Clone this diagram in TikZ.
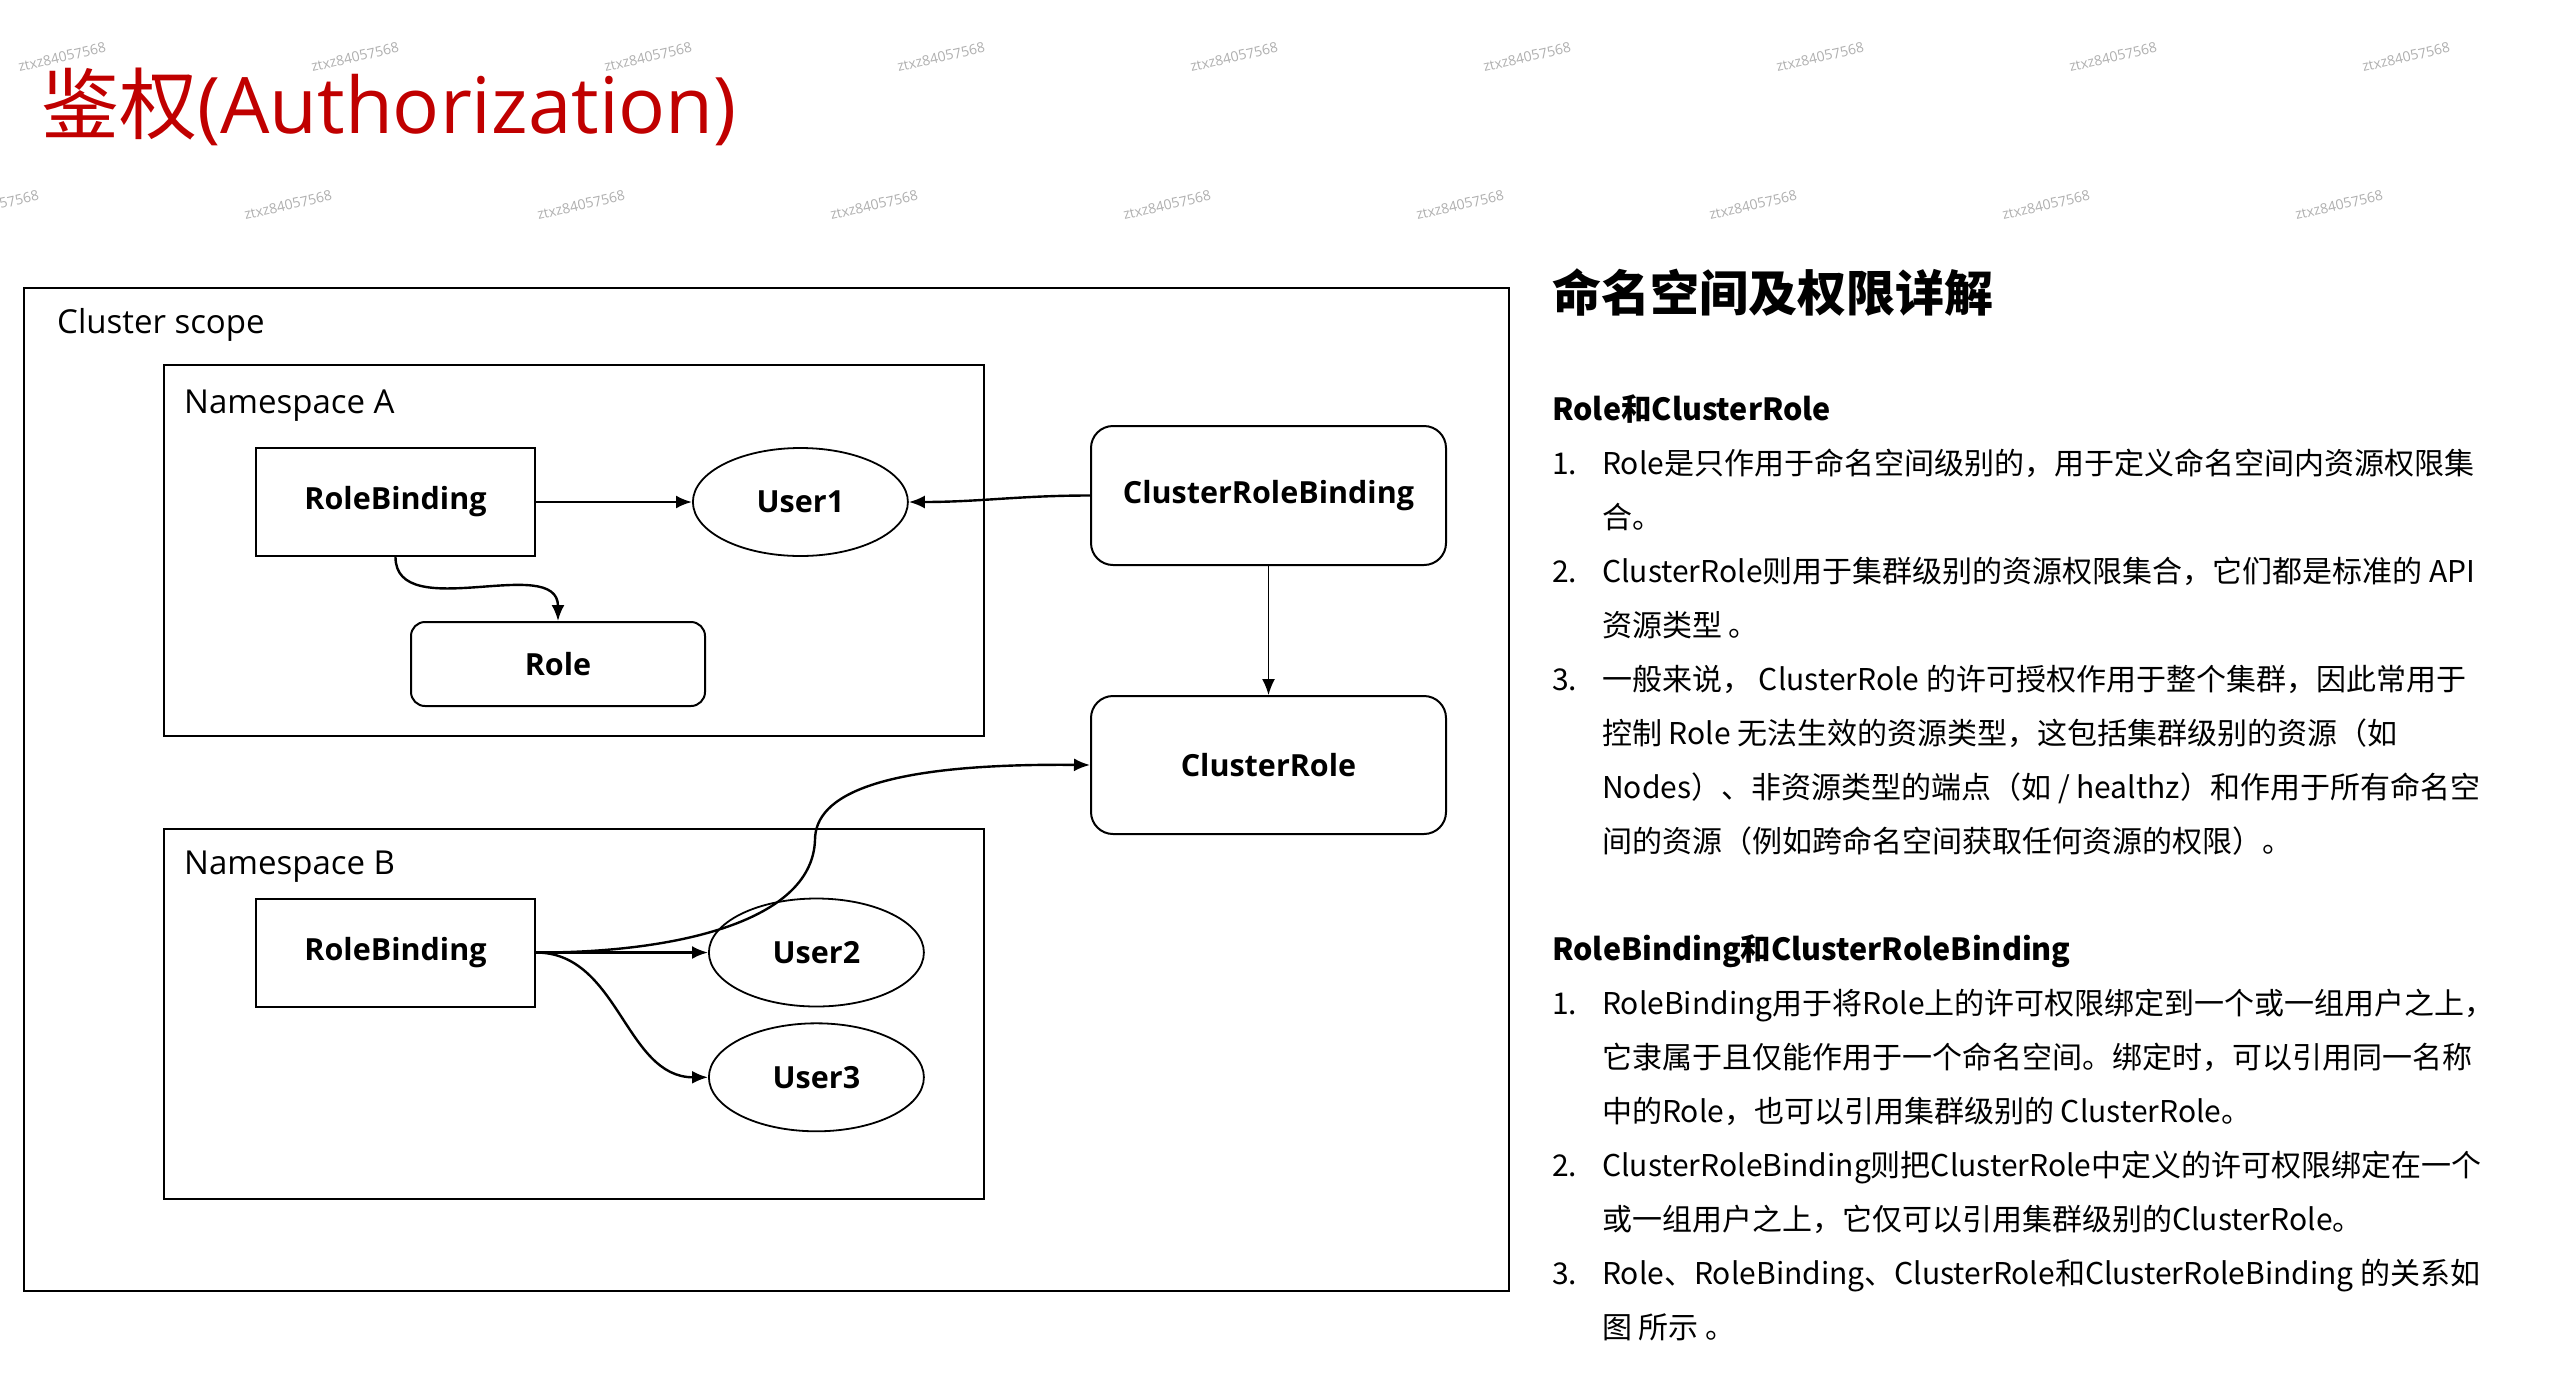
\documentclass[tikz,border=0pt]{standalone}
\usepackage{fontspec}
\setmainfont{Open Sans}
\setsansfont{Open Sans}
\newfontfamily\cjk{Noto Sans CJK SC}
\definecolor{titlered}{RGB}{192,0,0}
\definecolor{markgray}{RGB}{175,175,175}
\tikzset{every picture/.style={/utils/exec={\sffamily}}}
\usetikzlibrary{calc}
\usetikzlibrary{positioning}
\usetikzlibrary{shapes.geometric,arrows.meta}

\tikzset{
  wmark/.style={text=markgray, rotate=13, inner sep=0, font=\fontsize{14}{16}\selectfont},
  scopebox/.style={draw, line width=2pt, anchor=north west, inner sep=0},
  scopelabel/.style={anchor=base west, inner sep=0, font=\fontsize{33}{40}\selectfont},
  bindbox/.style={draw, line width=2pt, minimum width=279pt, minimum height=108pt, inner sep=0, font=\bfseries\fontsize{30.5}{36}\selectfont},
  clusterbox/.style={bindbox, rounded corners=22pt, minimum width=355pt, minimum height=138pt},
  usernode/.style={ellipse, draw, line width=1.8pt, minimum width=215pt, minimum height=108pt, inner sep=0, font=\bfseries\fontsize{30.5}{36}\selectfont},
  flow/.style={-{Latex[length=16pt,width=13pt]}, line width=2.4pt}
}

\begin{document}
\begin{tikzpicture}[x=1pt,y=1pt]
  \useasboundingbox (0,0) rectangle (2571,-1387);

  % watermark
  \foreach \k in {0,...,8} {
    \node [wmark] (markA\k) at (62+293*\k,-57) {ztxz84057568};
    \node [wmark] (markB\k) at (-5+293*\k,-205) {ztxz84057568};
  }

  \node [anchor=base west, inner sep=0, text=titlered, font=\fontsize{78}{96}\selectfont] (title) at (41,-133) {{\cjk 鉴权}(Authorization)};

  \node [scopebox, minimum width=1485pt, minimum height=1003pt] (cluster) at (23,-287) {};
  \node [scopelabel] (clustername) at ($(cluster.north west)+(34,-46)$) {Cluster scope};

  \node [scopebox, minimum width=820pt, minimum height=371pt] (nsA) at (163,-364) {};
  \node [scopelabel] (nsAname) at ($(nsA.north west)+(21,-49)$) {Namespace A};
  \node [scopebox, minimum width=820pt, minimum height=370pt] (nsB) at (163,-828) {};
  \node [scopelabel] (nsBname) at ($(nsB.north west)+(21,-46)$) {Namespace B};

  \node [bindbox] (rbA) at (395.5,-502) {RoleBinding};
  \node [usernode, right=156pt of rbA] (user1) {User1};
  \node [bindbox, rounded corners=14pt, minimum width=294pt, minimum height=84pt] (role) at (558,-664) {Role};

  \node [clusterbox, minimum height=139pt] (crb) at (1268.5,-495.5) {ClusterRoleBinding};
  \node [clusterbox, below=129pt of crb] (crole) {ClusterRole};

  \node [bindbox] (rbB) at (395.5,-952.5) {RoleBinding};
  \node [usernode, right=172pt of rbB] (user2) {User2};
  \node [usernode, below=15pt of user2] (user3) {User3};

  \coordinate (bend) at (815,-840);

  \draw [flow] (rbA.east) -- (user1.west);
  \draw [flow] (rbA.south) to[out=-90,in=90] (role.north);
  \draw [flow] (crb.west) to[out=180,in=0] (user1.east);
  \draw [flow, line width=1.6pt] (crb.south) -- (crole.north);
  \draw [flow] (rbB.east) .. controls (665,-953) and (812,-925) .. (bend) .. controls (815,-795) and (880,-763) .. (crole.west);
  \draw [flow] (rbB.east) -- (user2.west);
  \draw [flow] (rbB.east) to[out=0,in=180] (user3.west);

  \node [anchor=base west, inner sep=0, font=\cjk\bfseries\fontsize{49}{60}\selectfont] (heading) at (1552,-311) {命名空间及权限详解};
  \node [anchor=base west, inner sep=0, align=left, font=\cjk\fontsize{30}{54}\selectfont] (notes) at (1552,-1338) {%
    {\bfseries\fontsize{30.5}{54}\selectfont Role和ClusterRole}\\
    \makebox[50pt][l]{1.}Role是只作用于命名空间级别的，用于定义命名空间内资源权限集\\
    \hspace*{50pt}合。\\
    \makebox[50pt][l]{2.}ClusterRole则用于集群级别的资源权限集合，它们都是标准的 API\\
    \hspace*{50pt}资源类型 。\\
    \makebox[50pt][l]{3.}一般来说， ClusterRole 的许可授权作用于整个集群，因此常用于\\
    \hspace*{50pt}控制 Role 无法生效的资源类型，这包括集群级别的资源（如\\
    \hspace*{50pt}Nodes）、非资源类型的端点（如 / healthz）和作用于所有命名空\\
    \hspace*{50pt}间的资源（例如跨命名空间获取任何资源的权限）。\\[54pt]
    {\bfseries\fontsize{30.5}{54}\selectfont RoleBinding和ClusterRoleBinding}\\
    \makebox[50pt][l]{1.}RoleBinding用于将Role上的许可权限绑定到一个或一组用户之上，\\
    \hspace*{50pt}它隶属于且仅能作用于一个命名空间。绑定时，可以引用同一名称\\
    \hspace*{50pt}中的Role，也可以引用集群级别的 ClusterRole。\\
    \makebox[50pt][l]{2.}ClusterRoleBinding则把ClusterRole中定义的许可权限绑定在一个\\
    \hspace*{50pt}或一组用户之上，它仅可以引用集群级别的ClusterRole。\\
    \makebox[50pt][l]{3.}Role、RoleBinding、ClusterRole和ClusterRoleBinding 的关系如\\
    \hspace*{50pt}图 所示 。};
\end{tikzpicture}
\end{document}
